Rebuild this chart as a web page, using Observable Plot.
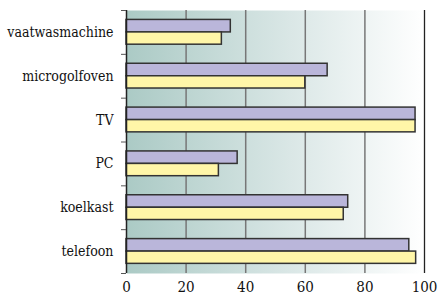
<!DOCTYPE html>
<html>
<head>
<meta charset="utf-8">
<script src="https://cdn.jsdelivr.net/npm/d3@7"></script>
<script src="https://cdn.jsdelivr.net/npm/@observablehq/plot@0.6"></script>
<style>
  html, body { margin: 0; padding: 0; background: #ffffff; }
  #chart svg { display: block; }
  #chart svg text { font-stretch: condensed; }
</style>
</head>
<body>
<div id="chart"></div>
<script>
const categories = ["vaatwasmachine", "microgolfoven", "TV", "PC", "koelkast", "telefoon"];
const seriesPurple = [35, 67.5, 97, 37.3, 74.4, 94.9];
const seriesYellow = [32, 60, 97, 31, 72.9, 97.2];
const xTicks = [0, 20, 40, 60, 80, 100];

const rows = categories.map((c, i) => ({ i, c, purple: seriesPurple[i], yellow: seriesYellow[i] }));

const SERIF = "'DejaVu Serif Condensed', 'DejaVu Serif', serif";

const defsMark = () => {
  const defs = d3.create("svg:defs");
  const g = defs.append("linearGradient").attr("id", "bg").attr("x1", "0").attr("x2", "1").attr("y1", "0").attr("y2", "0");
  g.append("stop").attr("offset", "0").attr("stop-color", "#abcac5");
  g.append("stop").attr("offset", "0.55").attr("stop-color", "#dae7e6");
  g.append("stop").attr("offset", "1").attr("stop-color", "#ffffff");
  return defs.node();
};

const chart = Plot.plot({
  width: 439,
  height: 295,
  marginLeft: 126,
  marginRight: 15,
  marginTop: 10,
  marginBottom: 22,
  style: { fontFamily: SERIF, fontSize: "14px", background: "#ffffff", color: "#111" },
  x: { domain: [0, 100], axis: null },
  y: { domain: [0, 6], reverse: true, axis: null },
  marks: [
    defsMark,
    Plot.frame({ fill: "url(#bg)", stroke: null }),
    Plot.ruleX([20, 40, 60, 80], { stroke: "#777", strokeWidth: 1.5 }),
    Plot.ruleX([100], { stroke: "#222", strokeWidth: 1.3 }),
    Plot.rectX(rows, { x1: 0, x2: "purple", y1: d => d.i + 0.215, y2: d => d.i + 0.5, fill: "#bab6da", stroke: "#333", strokeWidth: 1.5 }),
    Plot.rectX(rows, { x1: 0, x2: "yellow", y1: d => d.i + 0.5, y2: d => d.i + 0.78, fill: "#fff6a8", stroke: "#333", strokeWidth: 1.5 }),
    Plot.ruleX([0], { stroke: "#222", strokeWidth: 1.5 }),
    Plot.axisY({ ticks: d3.range(categories.length + 1), text: null, tickSize: 5, stroke: "#555" }),
    Plot.axisY({ ticks: categories.map((c, i) => i + 0.5), tickFormat: v => categories[Math.floor(v)], tickSize: 0, tickPadding: 13, fontSize: 14 }),
    Plot.axisX({ ticks: xTicks, tickSize: 0, tickPadding: 8, tickFormat: d => String(d), fontSize: 15 })
  ]
});
document.getElementById("chart").append(chart);
</script>
</body>
</html>
